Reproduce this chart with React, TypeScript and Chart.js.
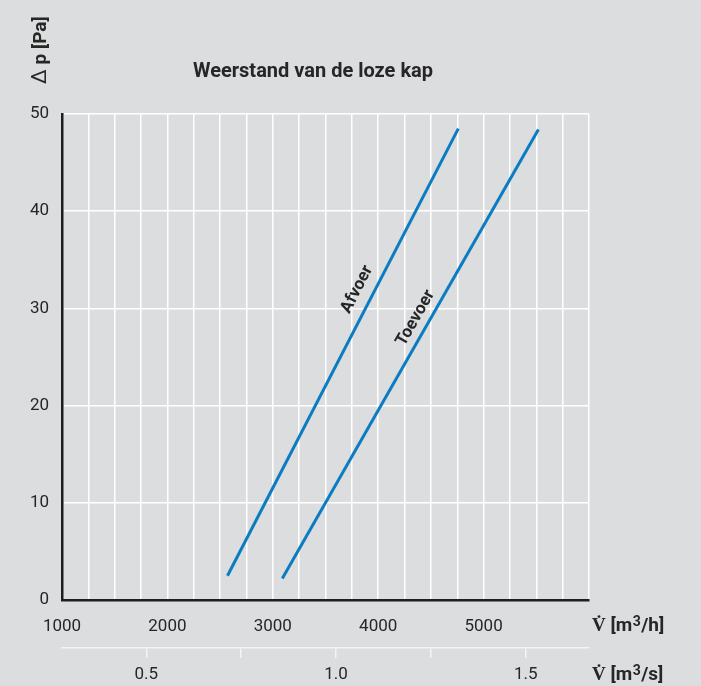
import React, { useEffect, useRef } from 'react';
import { Chart, registerables } from 'chart.js';

Chart.register(...registerables);

// ---- data ----
const afvoerFlow = [2570, 4760]; // m3/h
const afvoerDp = [2.5, 48.5]; // Pa
const toevoerFlow = [3090, 5520];
const toevoerDp = [2.2, 48.4];
const seriesNames = ['Afvoer', 'Toevoer'];
const labelT = [0.64, 0.58]; // where along each line its name sits
const labelShift = [-18, -15]; // horizontal offset of the name from its line (px)
const flowTickLabels = [1000, 2000, 3000, 4000, 5000];
const m3sTicks = [0.5, 0.75, 1.0, 1.25, 1.5];
const m3sTickLabels = ['0.5', '', '1.0', '', '1.5'];
const titleText = 'Weerstand van de loze kap';
const yAxisTitle = ['Δ', ' p [Pa]'];
const xAxisTitle = ['V\u0307 [m', '3', '/h]'];
const x2AxisTitle = ['V\u0307 [m', '3', '/s]'];

const FLOW_MIN = 1000;
const FLOW_MAX = 6000;
const DP_MIN = 0;
const DP_MAX = 50;

const BG = '#dcdddf';
const TEXT = '#262626';
const BLUE = '#0b7cc1';
const FONT = 'Roboto';

function drawSupLabel(ctx: any, parts: string[], x: number, y: number) {
  ctx.font = `bold 19px ${FONT}`;
  ctx.fillText(parts[0], x, y);
  let cx = x + ctx.measureText(parts[0]).width + 0.5;
  ctx.font = `bold 14px ${FONT}`;
  ctx.fillText(parts[1], cx, y - 4);
  cx += ctx.measureText(parts[1]).width + 0.5;
  ctx.font = `bold 19px ${FONT}`;
  ctx.fillText(parts[2], cx, y);
}

const textPlugin = {
  id: 'customTexts',
  afterDatasetsDraw(chart: any) {
    const ctx = chart.ctx;
    ctx.save();
    ctx.fillStyle = TEXT;
    ctx.font = `bold 17px ${FONT}`;
    ctx.textAlign = 'center';
    ctx.textBaseline = 'middle';
    chart.data.datasets.forEach((ds: any, i: number) => {
      const meta = chart.getDatasetMeta(i);
      const p0 = meta.data[0];
      const p1 = meta.data[meta.data.length - 1];
      const t = labelT[i];
      const x = p0.x + (p1.x - p0.x) * t + labelShift[i];
      const y = p0.y + (p1.y - p0.y) * t;
      const ang = Math.atan2(p1.y - p0.y, p1.x - p0.x);
      ctx.save();
      ctx.translate(x, y);
      ctx.rotate(ang);
      ctx.fillText(ds.label, 0, 0);
      ctx.restore();
    });
    ctx.restore();
  },
  afterDraw(chart: any) {
    const ctx = chart.ctx;
    const { right, bottom } = chart.chartArea;
    ctx.save();
    ctx.fillStyle = TEXT;
    ctx.textBaseline = 'middle';
    // title
    ctx.font = `bold 20px ${FONT}`;
    ctx.textAlign = 'center';
    ctx.fillText(titleText, 313, 72);
    // y axis title (rotated)
    ctx.save();
    ctx.translate(41, 84);
    ctx.rotate(-Math.PI / 2);
    ctx.textAlign = 'left';
    ctx.font = `21px ${FONT}`;
    ctx.fillText(yAxisTitle[0], 0, 0);
    const w0 = ctx.measureText(yAxisTitle[0]).width;
    ctx.font = `bold 19px ${FONT}`;
    ctx.fillText(yAxisTitle[1], w0, 0);
    ctx.restore();
    // x axis titles
    ctx.textAlign = 'left';
    drawSupLabel(ctx, xAxisTitle, right + 3, bottom + 26);
    drawSupLabel(ctx, x2AxisTitle, right + 3, bottom + 75);
    ctx.restore();
  },
};

export default function App() {
  const ref = useRef<HTMLCanvasElement>(null);

  useEffect(() => {
    if (!ref.current) return;
    Chart.defaults.font.family = FONT;
    const chart = new Chart(ref.current, {
      type: 'line',
      data: {
        datasets: [
          {
            label: seriesNames[0],
            data: afvoerFlow.map((f, i) => ({ x: f, y: afvoerDp[i] })),
            borderColor: BLUE,
            borderWidth: 3,
            pointRadius: 0,
            fill: false,
            xAxisID: 'x',
          },
          {
            label: seriesNames[1],
            data: toevoerFlow.map((f, i) => ({ x: f, y: toevoerDp[i] })),
            borderColor: BLUE,
            borderWidth: 3,
            pointRadius: 0,
            fill: false,
            xAxisID: 'x',
          },
        ],
      },
      options: {
        animation: false,
        responsive: false,
        maintainAspectRatio: false,
        layout: { padding: { top: 114, right: 112, left: 0, bottom: 0 } },
        plugins: {
          legend: { display: false },
          tooltip: { enabled: false },
          title: { display: false },
        },
        scales: {
          x: {
            type: 'linear',
            position: 'bottom',
            weight: 0,
            min: FLOW_MIN,
            max: FLOW_MAX,
            afterFit: (s: any) => {
              s.height = 48;
            },
            ticks: {
              stepSize: 250,
              autoSkip: false,
              maxRotation: 0,
              padding: 17,
              color: TEXT,
              font: { size: 17, family: FONT },
              callback: (v: any) => (flowTickLabels.includes(Number(v)) ? String(v) : ''),
            },
            grid: { color: '#ffffff', lineWidth: 1.5, drawTicks: false },
            border: { color: '#1e1e1e', width: 2.5 },
          },
          x2: {
            type: 'linear',
            position: 'bottom',
            weight: 1,
            min: FLOW_MIN / 3600,
            max: FLOW_MAX / 3600,
            afterFit: (s: any) => {
              s.height = 38;
            },
            afterBuildTicks: (s: any) => {
              s.ticks = m3sTicks.map((v) => ({ value: v }));
            },
            ticks: {
              autoSkip: false,
              maxRotation: 0,
              padding: 7,
              color: TEXT,
              font: { size: 17, family: FONT },
              callback: (_v: any, i: number) => m3sTickLabels[i],
            },
            grid: {
              drawOnChartArea: false,
              drawTicks: true,
              tickLength: 10,
              color: '#f4f4f4',
              lineWidth: 1.5,
            },
            border: { color: '#f4f4f4', width: 1.5 },
          },
          y: {
            type: 'linear',
            min: DP_MIN,
            max: DP_MAX,
            afterFit: (s: any) => {
              s.width = 62;
            },
            ticks: {
              stepSize: 10,
              padding: 13,
              color: TEXT,
              font: { size: 17, family: FONT },
            },
            grid: { color: '#ffffff', lineWidth: 1.5, drawTicks: false },
            border: { color: '#1e1e1e', width: 2.5 },
          },
        },
      },
      plugins: [textPlugin],
    } as any);
    return () => chart.destroy();
  }, []);

  return (
    <div
      style={{
        position: 'absolute',
        left: 0,
        top: 0,
        width: 701,
        height: 686,
        background: BG,
      }}
    >
      <canvas ref={ref} width={701} height={686} style={{ display: 'block' }} />
    </div>
  );
}
